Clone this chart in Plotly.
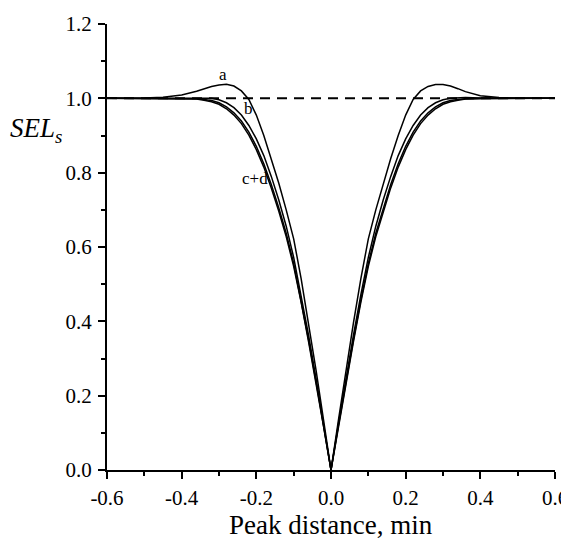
import plotly.graph_objects as go

# peak distance (min) and SEL_s for the four curves
distance = [-0.60, -0.55, -0.50, -0.45, -0.40, -0.36, -0.34, -0.32, -0.30, -0.28,
            -0.26, -0.24, -0.22, -0.20, -0.18, -0.16, -0.14, -0.12, -0.10, -0.08,
            -0.06, -0.04, -0.02, 0.00, 0.02, 0.04, 0.06, 0.08, 0.10, 0.12,
            0.14, 0.16, 0.18, 0.20, 0.22, 0.24, 0.26, 0.28, 0.30, 0.32,
            0.34, 0.36, 0.40, 0.45, 0.50, 0.55, 0.60]

sel_a = [1.000, 1.000, 1.001, 1.003, 1.009, 1.019, 1.026, 1.032, 1.036, 1.038,
         1.033, 1.020, 0.997, 0.955, 0.900, 0.838, 0.772, 0.700, 0.622, 0.515,
         0.395, 0.268, 0.135, 0.000, 0.135, 0.268, 0.395, 0.515, 0.622, 0.700,
         0.772, 0.838, 0.900, 0.955, 0.997, 1.020, 1.032, 1.037, 1.037, 1.033,
         1.026, 1.018, 1.007, 1.002, 1.000, 1.000, 1.000]

sel_b = [1.000, 1.000, 1.000, 1.001, 1.001, 1.002, 1.002, 1.000, 0.996, 0.988,
         0.975, 0.955, 0.927, 0.891, 0.846, 0.790, 0.727, 0.656, 0.572, 0.472,
         0.362, 0.245, 0.125, 0.000, 0.125, 0.245, 0.362, 0.472, 0.572, 0.656,
         0.727, 0.790, 0.846, 0.891, 0.927, 0.955, 0.975, 0.988, 0.996, 1.000,
         1.002, 1.002, 1.001, 1.001, 1.000, 1.000, 1.000]

sel_c = [1.000, 1.000, 1.000, 1.000, 1.000, 0.999, 0.997, 0.994, 0.988, 0.977,
         0.961, 0.939, 0.909, 0.871, 0.824, 0.768, 0.706, 0.637, 0.556, 0.458,
         0.350, 0.238, 0.120, 0.000, 0.120, 0.238, 0.350, 0.458, 0.556, 0.637,
         0.706, 0.768, 0.824, 0.871, 0.909, 0.939, 0.961, 0.977, 0.988, 0.994,
         0.997, 0.999, 1.000, 1.000, 1.000, 1.000, 1.000]

sel_d = [1.000, 1.000, 1.000, 1.000, 0.999, 0.998, 0.995, 0.991, 0.984, 0.972,
         0.955, 0.932, 0.901, 0.862, 0.815, 0.759, 0.697, 0.628, 0.548, 0.452,
         0.345, 0.235, 0.118, 0.000, 0.118, 0.235, 0.345, 0.452, 0.548, 0.628,
         0.697, 0.759, 0.815, 0.862, 0.901, 0.932, 0.955, 0.972, 0.984, 0.991,
         0.995, 0.998, 0.999, 1.000, 1.000, 1.000, 1.000]

reference_x = [-0.6, 0.6]
reference_y = [1.0, 1.0]

x_ticks = [-0.6, -0.4, -0.2, 0.0, 0.2, 0.4, 0.6]
x_tick_text = ["-0.6", "-0.4", "-0.2", "0.0", "0.2", "0.4", "0.6"]
y_ticks = [0.0, 0.2, 0.4, 0.6, 0.8, 1.0, 1.2]
y_tick_text = ["0.0", "0.2", "0.4", "0.6", "0.8", "1.0", "1.2"]

FONT = "Liberation Serif"

fig = go.Figure()

fig.add_trace(go.Scatter(x=reference_x, y=reference_y, mode="lines",
                         line=dict(color="black", width=2, dash="10px,7px")))
for sel in [sel_d, sel_c, sel_b, sel_a]:
    fig.add_trace(go.Scatter(x=distance, y=sel, mode="lines",
                             line=dict(color="black", width=1.5)))

# curve labels
fig.add_annotation(x=-0.289, y=1.064, text="a", showarrow=False,
                   font=dict(family=FONT, size=17, color="black"))
fig.add_annotation(x=-0.222, y=0.972, text="b", showarrow=False,
                   font=dict(family=FONT, size=17, color="black"))
fig.add_annotation(x=-0.204, y=0.784, text="c+d", showarrow=False,
                   font=dict(family=FONT, size=17, color="black"))

# y axis title, written horizontally
fig.add_annotation(xref="paper", yref="y", x=-0.222, y=0.915, xanchor="left",
                   text="<i>SEL</i><sub><i>s</i></sub>", showarrow=False,
                   font=dict(family=FONT, size=27, color="black"))

# x axis title as an annotation so it stays put without automargin
fig.add_annotation(xref="paper", yref="paper", x=0.5, y=-0.124,
                   xanchor="center", yanchor="middle",
                   text="Peak distance, min", showarrow=False,
                   font=dict(family=FONT, size=27, color="black"))

axis_common = dict(showgrid=False, zeroline=False, showline=True,
                   linecolor="black", linewidth=2, ticks="outside",
                   ticklen=7, tickwidth=1.5, tickcolor="black", automargin=False,
                   tickfont=dict(family=FONT, size=21, color="black"),
                   minor=dict(ticks="outside", ticklen=4, tickwidth=1.5,
                              tickcolor="black", dtick=0.1))

fig.update_xaxes(range=[-0.6, 0.6], tickvals=x_ticks, ticktext=x_tick_text,
                 ticklabelstandoff=1, **axis_common)
fig.update_yaxes(range=[0, 1.2], tickvals=y_ticks, ticktext=y_tick_text,
                 ticklabelstandoff=2, **axis_common)

# the page body adds an 8px margin, so the figure is 8px smaller each way
fig.update_layout(width=561, height=535, showlegend=False,
                  plot_bgcolor="white", paper_bgcolor="white",
                  margin=dict(l=99, r=14, t=15.5, b=72.5),
                  font=dict(family=FONT, color="black"))

fig.write_html("out.html")
